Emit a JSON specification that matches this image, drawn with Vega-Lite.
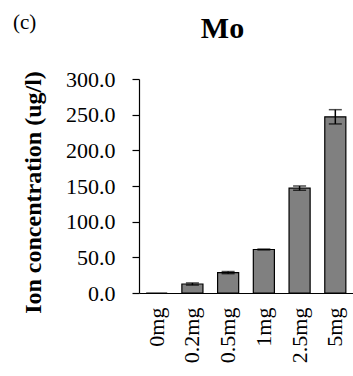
{
  "$schema": "https://vega.github.io/schema/vega-lite/v6.json",
  "autosize": "none",
  "width": 214,
  "height": 214,
  "padding": {"left": 139, "top": 79, "right": 0, "bottom": 83},
  "title": {"text": "(c)", "anchor": "start", "frame": "group", "dx": -126, "offset": -37, "baseline": "alphabetic", "font": "Liberation Serif", "fontSize": 21, "fontWeight": "normal", "color": "black"},
  "data": {"values": [
    {"dose": "0mg", "conc": 0, "err": 0},
    {"dose": "0.2mg", "conc": 12.6, "err": 1.5},
    {"dose": "0.5mg", "conc": 28.6, "err": 1.5},
    {"dose": "1mg", "conc": 61, "err": 0.6},
    {"dose": "2.5mg", "conc": 147, "err": 3},
    {"dose": "5mg", "conc": 247, "err": 10}
  ]},
  "encoding": {
    "x": {"field": "dose", "type": "nominal", "sort": null,
      "scale": {"paddingInner": 0.41, "paddingOuter": 0.2},
      "axis": {"title": "Mo", "titleX": 83, "titleY": -256, "titleAngle": 0, "titleAlign": "center", "titleBaseline": "alphabetic", "titleFont": "Liberation Serif", "titleFontSize": 30, "titleFontWeight": "bold", "titleColor": "black",
        "labelAngle": -90, "labelPadding": 14, "ticks": false, "labelFont": "Liberation Serif", "labelFontSize": 22, "labelColor": "black", "domainColor": "black", "domainWidth": 1.2}},
    "y": {"field": "conc", "type": "quantitative", "scale": {"domain": [0, 300]}, "title": "Ion concentration (ug/l)",
       "axis": {"titleX": -99, "titleY": 113, "titleAngle": -90, "titleAlign": "center", "titleBaseline": "alphabetic", "titleFont": "Liberation Serif", "titleFontSize": 24, "titleFontWeight": "bold", "titleColor": "black",
         "values": [0, 50, 100, 150, 200, 250, 300], "format": ".1f", "grid": false, "labelOverlap": false, "tickSize": 7, "tickColor": "black", "tickWidth": 1.2, "labelPadding": 17, "labelFont": "Liberation Serif", "labelFontSize": 22, "labelColor": "black", "domainColor": "black", "domainWidth": 1.2}}
  },
  "layer": [
    {"mark": {"type": "bar", "color": "#808080", "stroke": "black", "strokeWidth": 1.2}},
    {"transform": [{"filter": "datum.err > 0"}],
     "mark": {"type": "errorbar", "ticks": {"size": 13, "color": "black", "thickness": 1.5}, "rule": {"color": "black", "strokeWidth": 1.5}},
     "encoding": {"yError": {"field": "err"}}}
  ],
  "config": {"view": {"stroke": null}, "font": "Liberation Serif", "axis": {"labelFont": "Liberation Serif", "titleFont": "Liberation Serif"}}
}
